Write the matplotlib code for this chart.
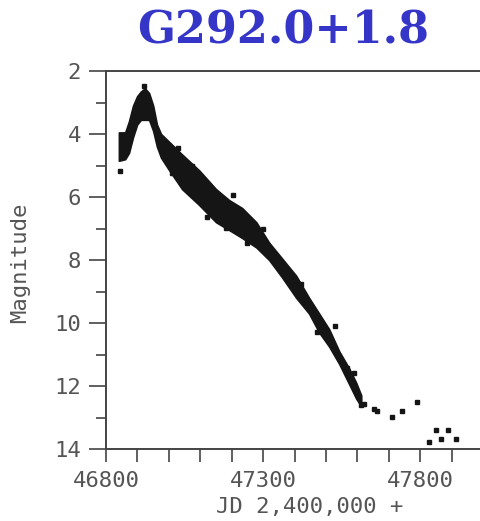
import matplotlib.pyplot as plt

# dense part of the light curve: bright / faint edges of the band of points
band_jd = [46841, 46861, 46873, 46886, 46899, 46911, 46924, 46937, 46950, 46962,
           46975, 47001, 47042, 47096, 47150, 47192, 47233, 47278, 47319, 47360,
           47405, 47446, 47478, 47510, 47542, 47574, 47596, 47612]
band_top = [3.95, 3.95, 3.6, 3.1, 2.8, 2.65, 2.55, 2.7, 3.1, 3.7,
            4.0, 4.25, 4.65, 5.15, 5.75, 6.1, 6.35, 6.8, 7.45, 7.95,
            8.5, 9.2, 9.7, 10.2, 10.9, 11.45, 11.9, 12.3]
band_bot = [4.85, 4.8, 4.6, 4.1, 3.7, 3.55, 3.55, 3.55, 3.9, 4.4,
            4.75, 5.15, 5.75, 6.25, 6.8, 7.05, 7.3, 7.6, 8.0, 8.55,
            9.2, 9.7, 10.3, 10.75, 11.3, 11.95, 12.4, 12.65]

# single points outside / along the band
pt_jd = [46845, 46921, 47010, 47030, 47075, 47120, 47182, 47205, 47250, 47265,
         47300, 47329, 47345, 47357, 47389, 47420, 47470, 47530, 47567, 47590,
         47612, 47622, 47654, 47663, 47711, 47743, 47790, 47829, 47851, 47867,
         47889, 47915]
pt_mag = [5.17, 2.48, 5.24, 4.45, 5.0, 6.65, 6.98, 5.95, 7.45, 7.37,
          7.0, 7.78, 8.0, 8.25, 8.48, 8.75, 10.3, 10.1, 11.43, 11.6,
          12.6, 12.57, 12.73, 12.79, 12.98, 12.79, 12.51, 13.78, 13.40, 13.68,
          13.40, 13.68]

xticks_major = [46800, 47300, 47800]
yticks_major = [2, 4, 6, 8, 10, 12, 14]

fig = plt.figure(figsize=(4.81, 5.21), dpi=100)
ax = fig.add_axes([106/481, 72/521, 375/481, 378/521])

ink = '#151515'
ax.fill_between(band_jd, band_top, band_bot, color=ink, lw=1.2, edgecolor=ink)
ax.plot(pt_jd, pt_mag, 's', ms=3.2, color=ink, mec=ink)

ax.set_xlim(46800, 47993)
ax.set_ylim(14, 2)
ax.set_xticks(xticks_major)
ax.set_xticks(range(46900, 48000, 100), minor=True)
ax.set_yticks(yticks_major)
ax.set_yticks(range(3, 14, 2), minor=True)

mono = dict(family='DejaVu Sans Mono', fontsize=16, color='#555555')
ax.set_xticklabels([str(v) for v in xticks_major], **mono)
ax.set_yticklabels([str(v) for v in yticks_major], **mono)

ax.tick_params(axis='y', which='major', direction='out', length=12, width=1.2, pad=6, color='#444')
ax.tick_params(axis='y', which='minor', direction='out', length=7.5, width=1.2, color='#444')
ax.tick_params(axis='x', which='both', direction='out', length=9.5, width=1.2, pad=6, color='#444')

for s in ['left', 'bottom', 'top']:
    ax.spines[s].set_linewidth(1.4)
    ax.spines[s].set_color('#444')
ax.spines['right'].set_visible(False)

ax.set_xlabel('JD 2,400,000 +', **mono)
ax.set_ylabel('Magnitude', **mono)
ax.xaxis.set_label_coords(0.543, -0.153)
ax.yaxis.set_label_coords(-0.23, 0.492)
ax.xaxis.label.set_va('center')
ax.yaxis.label.set_va('center')

fig.text(0.589, 0.94, 'G292.0+1.8', ha='center', va='center',
         family='DejaVu Serif', fontweight='bold', fontsize=32, color='#3535c8')

fig.savefig('out.png', dpi=100)
